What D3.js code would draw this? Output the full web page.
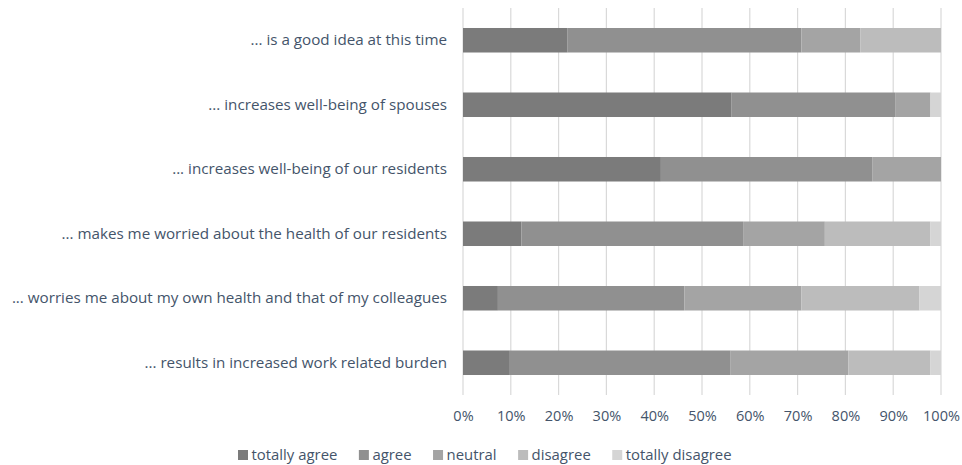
<!DOCTYPE html>
<html>
<head>
<meta charset="utf-8">
<script src="https://cdn.jsdelivr.net/npm/d3@7"></script>
<style>
  body { margin: 0; background: #fff; }
  text { font-family: "Open Sans", Lato, sans-serif; fill: #44546a; }
</style>
</head>
<body>
<div class="chart"></div>
<script>
// data
const questions = [
    '... is a good idea at this time',
    '... increases well-being of spouses',
    '... increases well-being of our residents',
    '... makes me worried about the health of our residents',
    '... worries me about my own health and that of my colleagues',
    '... results in increased work related burden'
];
const answers = ['totally agree', 'agree', 'neutral', 'disagree', 'totally disagree'];
const totallyAgree    = [21.8, 56.2, 41.4, 12.2, 7.3, 9.8];
const agree           = [49.0, 34.2, 44.2, 46.4, 39.0, 46.2];
const neutral         = [12.3, 7.4, 14.4, 17.1, 24.5, 24.6];
const disagree        = [16.9, 0, 0, 22.1, 24.7, 17.2];
const totallyDisagree = [0, 2.2, 0, 2.2, 4.5, 2.2];
const tickValues = [0, 10, 20, 30, 40, 50, 60, 70, 80, 90, 100];
const colors = ['#7b7b7b', '#909090', '#a4a4a4', '#bcbcbc', '#d5d5d5'];

// 組成 stack 用的表格
const rows = questions.map((q, i) => ({
    question: q,
    'totally agree': totallyAgree[i],
    'agree': agree[i],
    'neutral': neutral[i],
    'disagree': disagree[i],
    'totally disagree': totallyDisagree[i]
}));
const series = d3.stack().keys(answers)(rows);

// svg
const svg_width = 962;
const svg_height = 465;
const margin = { top: 8, bottom: 70, left: 463, right: 21 };
const chart_width = svg_width - margin.left - margin.right;
const chart_height = svg_height - margin.top - margin.bottom;
const font = '"Open Sans", Lato, sans-serif';

const svg = d3.select('.chart').append('svg')
    .attr('width', svg_width).attr('height', svg_height);
const g = svg.append('g')
    .attr('transform', `translate(${margin.left},${margin.top})`);

const xScale = d3.scaleLinear([0, 100], [0, chart_width]);
const yScale = d3.scaleBand().domain(questions)
    .range([0, chart_height])
    .paddingInner(0.62).paddingOuter(0.31);

// 格線
g.append('g').selectAll('line').data(tickValues).join('line')
    .attr('x1', d => xScale(d)).attr('x2', d => xScale(d))
    .attr('y1', 0).attr('y2', chart_height)
    .style('stroke', '#d9d9d9').style('stroke-width', 1.2);

// bars
g.append('g').selectAll('g').data(series).join('g')
    .style('fill', (d, i) => colors[i])
    .selectAll('rect').data(d => d).join('rect')
        .attr('x', d => xScale(d[0]))
        .attr('y', d => yScale(d.data.question))
        .attr('width', d => xScale(d[1]) - xScale(d[0]))
        .attr('height', yScale.bandwidth());

// x axis labels
const xAxis = d3.axisBottom(xScale).tickValues(tickValues)
    .tickFormat(d => d + '%').tickSize(0).tickPadding(16);
const xAxisDraw = g.append('g')
    .attr('transform', `translate(0,${chart_height})`)
    .call(xAxis);
xAxisDraw.select('.domain').remove();
xAxisDraw.selectAll('text').style('font-size', '14.5px').style('fill', '#44546a')
    .style('font-family', font);

// y axis labels
const yAxis = d3.axisLeft(yScale).tickSize(0).tickPadding(16);
const yAxisDraw = g.append('g').call(yAxis);
yAxisDraw.select('.domain').remove();
yAxisDraw.selectAll('text').style('font-size', '15.2px').style('fill', '#44546a')
    .style('font-family', font);

// legend
const legend = svg.append('g').attr('transform', 'translate(238,455)');
let lx = 0;
answers.forEach((a, i) => {
    const item = legend.append('g').attr('transform', `translate(${lx},0)`);
    item.append('rect').attr('x', 0).attr('y', -5)
        .attr('width', 10).attr('height', 10).style('fill', colors[i]);
    const t = item.append('text').attr('x', 13.5).attr('dy', '0.35em')
        .style('font-size', '14.9px').text(a);
    lx += 13.5 + t.node().getComputedTextLength() + 21.5;
});
</script>
</body>
</html>
